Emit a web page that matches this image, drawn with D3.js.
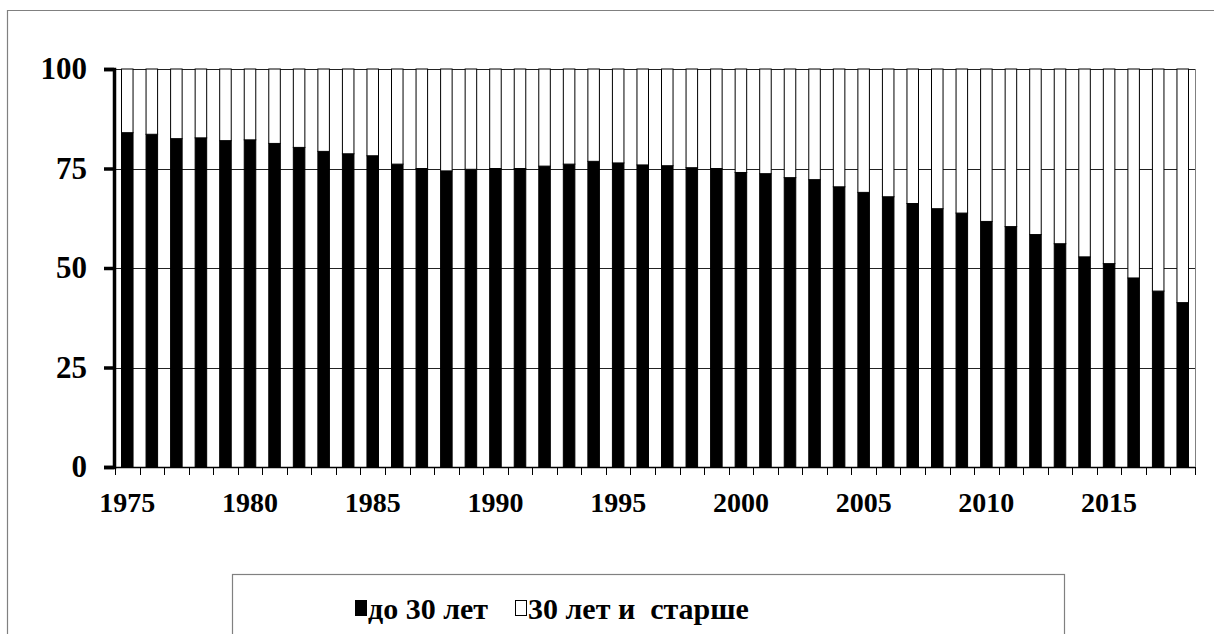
<!DOCTYPE html>
<html>
<head>
<meta charset="utf-8">
<script src="https://cdn.jsdelivr.net/npm/d3@7/dist/d3.min.js"></script>
<style>
  body { margin: 0; background: #fff; }
  svg text { font-family: "Times New Roman", "Liberation Serif", Tinos, "DejaVu Serif", serif; font-weight: 700; white-space: pre; }
</style>
</head>
<body>
<div id="chart"></div>
<script>
// data
var years = [1975, 1976, 1977, 1978, 1979, 1980, 1981, 1982, 1983, 1984,
             1985, 1986, 1987, 1988, 1989, 1990, 1991, 1992, 1993, 1994,
             1995, 1996, 1997, 1998, 1999, 2000, 2001, 2002, 2003, 2004,
             2005, 2006, 2007, 2008, 2009, 2010, 2011, 2012, 2013, 2014,
             2015, 2016, 2017, 2018];
var under30 = [84.0, 83.6, 82.5, 82.7, 82.0, 82.2, 81.3, 80.3, 79.3, 78.7,
               78.2, 76.1, 75.0, 74.4, 74.8, 75.0, 75.0, 75.6, 76.1, 76.8,
               76.4, 75.9, 75.7, 75.2, 75.0, 74.0, 73.7, 72.7, 72.2, 70.4,
               69.0, 67.9, 66.2, 64.9, 63.8, 61.7, 60.4, 58.4, 56.1, 52.8,
               51.1, 47.5, 44.2, 41.3];
var over30 = [16.0, 16.4, 17.5, 17.3, 18.0, 17.8, 18.7, 19.7, 20.7, 21.3,
              21.8, 23.9, 25.0, 25.6, 25.2, 25.0, 25.0, 24.4, 23.9, 23.2,
              23.6, 24.1, 24.3, 24.8, 25.0, 26.0, 26.3, 27.3, 27.8, 29.6,
              31.0, 32.1, 33.8, 35.1, 36.2, 38.3, 39.6, 41.6, 43.9, 47.2,
              48.9, 52.5, 55.8, 58.7];
var yTicks = [0, 25, 50, 75, 100];
var xLabels = [1975, 1980, 1985, 1990, 1995, 2000, 2005, 2010, 2015];
var seriesNames = ["до 30 лет", "30 лет и  старше"];

var width = 1214, height = 634;
var plotLeft = 115, plotRight = 1195, plotTop = 69, plotBottom = 467;
var serif = '"Times New Roman", "Liberation Serif", Tinos, "DejaVu Serif", serif';

var svg = d3.select('#chart').append('svg')
    .attr('width', width)
    .attr('height', height)
    .attr('font-family', serif);

// outer frame
svg.append('path')
    .attr('d', 'M7.5,' + height + 'V10.5H' + width)
    .attr('fill', 'none')
    .attr('stroke', '#808080')
    .attr('stroke-width', 1.2);

var x = d3.scaleBand().domain(years).range([plotLeft, plotRight]).padding(0);
var y = d3.scaleLinear().domain([0, 100]).range([plotBottom, plotTop]);

var rows = years.map(function(yr, i) {
    return {year: yr, a: under30[i], b: over30[i]};
});
var stack = d3.stack().keys(['a', 'b'])(rows);

// gridlines
svg.append('g')
  .selectAll('line')
    .data(yTicks.filter(function(d) { return d > 0; }))
  .enter()
    .append('line')
    .attr('x1', plotLeft).attr('x2', plotRight)
    .attr('y1', function(d) { return Math.round(y(d)) + 0.5; })
    .attr('y2', function(d) { return Math.round(y(d)) + 0.5; })
    .attr('stroke', '#222')
    .attr('stroke-width', 1);

// right border of plot area
svg.append('line')
    .attr('x1', plotRight + 0.5).attr('x2', plotRight + 0.5)
    .attr('y1', plotTop).attr('y2', plotBottom)
    .attr('stroke', '#808080');

var barW = x.bandwidth() * 0.47;
var fills = ['#000', '#fff'];

stack.forEach(function(layer, li) {
    svg.append('g')
      .selectAll('rect')
        .data(layer)
      .enter()
        .append('rect')
        .attr('x', function(d) { return x(d.data.year) + (x.bandwidth() - barW) / 2; })
        .attr('y', function(d) { return y(d[1]); })
        .attr('width', barW)
        .attr('height', function(d) { return y(d[0]) - y(d[1]); })
        .attr('fill', fills[li])
        .attr('stroke', '#000')
        .attr('stroke-width', 1);
});

// x axis: ticks at band edges
svg.append('line')
    .attr('x1', plotLeft).attr('x2', plotRight)
    .attr('y1', plotBottom + 0.5).attr('y2', plotBottom + 0.5)
    .attr('stroke', '#000').attr('stroke-width', 1.5);

var edges = years.map(function(d) { return x(d); }).concat([plotRight]);
svg.append('g')
  .selectAll('line')
    .data(edges)
  .enter()
    .append('line')
    .attr('x1', function(d) { return Math.round(d) + 0.5; })
    .attr('x2', function(d) { return Math.round(d) + 0.5; })
    .attr('y1', plotBottom).attr('y2', plotBottom + 8)
    .attr('stroke', '#000');

svg.append('g')
  .selectAll('text')
    .data(xLabels)
  .enter()
    .append('text')
    .attr('x', function(d) { return x(d) + x.bandwidth() / 2; })
    .attr('y', 512)
    .attr('text-anchor', 'middle')
    .attr('font-family', serif)
    .attr('font-weight', 'bold')
    .attr('font-size', 28)
    .text(function(d) { return d; });

// y axis
var yAxis = d3.axisLeft(y).tickValues(yTicks).tickSize(10).tickPadding(17);
var yg = svg.append('g')
    .attr('transform', 'translate(' + (plotLeft - 1) + ',0)')
    .call(yAxis)
    .attr('font-family', serif);
yg.select('.domain').attr('stroke', '#000').attr('stroke-width', 3.5);
yg.selectAll('.tick line').attr('stroke', '#000').attr('stroke-width', 3.5);
yg.selectAll('.tick text')
    .attr('font-size', 31)
    .attr('font-family', serif)
    .attr('font-weight', 'bold')
    .attr('fill', '#000');

// legend
var leg = svg.append('g');
leg.append('rect')
    .attr('x', 232.5).attr('y', 574.5)
    .attr('width', 832).attr('height', 80)
    .attr('fill', '#fff')
    .attr('stroke', '#808080')
    .attr('stroke-width', 1.2);

var legX = [355, 515];
seriesNames.forEach(function(name, i) {
    leg.append('rect')
        .attr('x', legX[i] + 0.5).attr('y', 600.5)
        .attr('width', 11).attr('height', 15)
        .attr('fill', fills[i])
        .attr('stroke', '#000')
        .attr('stroke-width', 1);
    leg.append('text')
        .attr('x', legX[i] + 13)
        .attr('y', 619)
        .attr('font-family', serif)
        .attr('font-weight', 'bold')
        .attr('font-size', 30)
        .text(name);
});
</script>
</body>
</html>
